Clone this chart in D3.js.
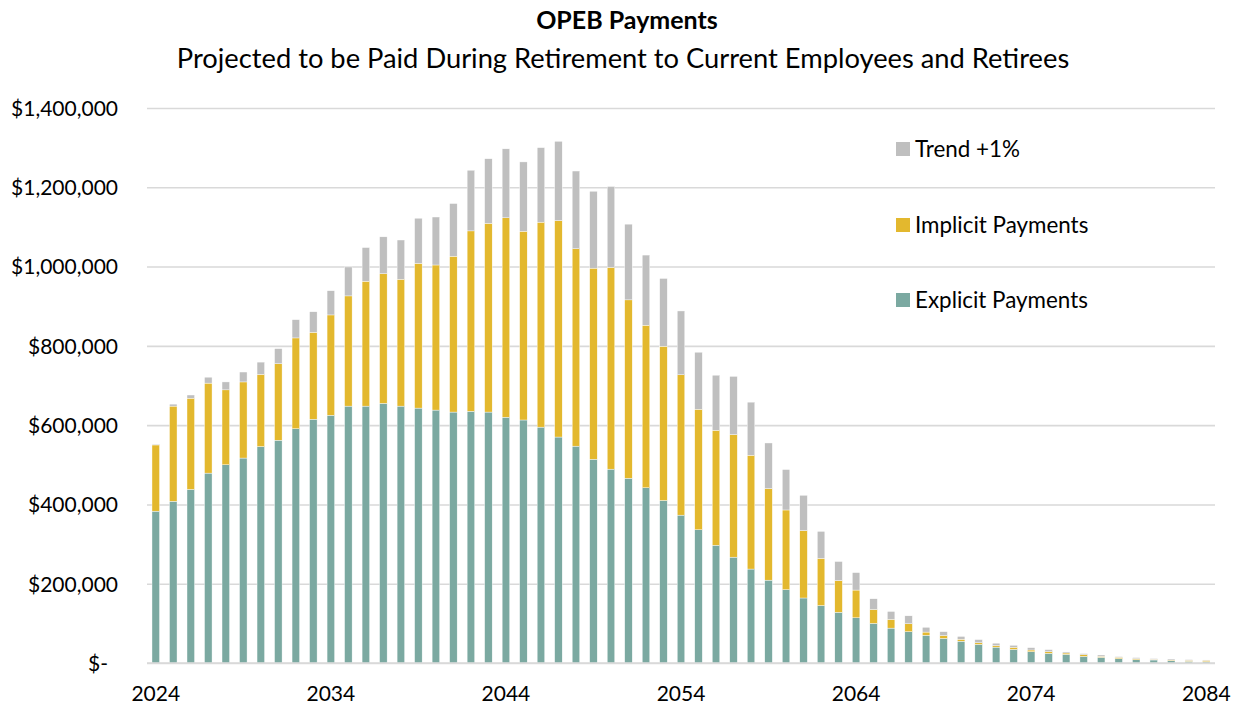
<!DOCTYPE html>
<html>
<head>
<meta charset="utf-8">
<script src="https://cdn.jsdelivr.net/npm/d3@7"></script>
<style>
  html, body { margin: 0; padding: 0; background: #ffffff; }
  svg { display: block; }
  text { font-family: Lato, "Open Sans", sans-serif; fill: #000; }
</style>
</head>
<body>
<svg id="chart" width="1239" height="704"></svg>
<script>
// ---- Data (values in thousands of dollars) ----
const years = [2024,2025,2026,2027,2028,2029,2030,2031,2032,2033,
               2034,2035,2036,2037,2038,2039,2040,2041,2042,2043,
               2044,2045,2046,2047,2048,2049,2050,2051,2052,2053,
               2054,2055,2056,2057,2058,2059,2060,2061,2062,2063,
               2064,2065,2066,2067,2068,2069,2070,2071,2072,2073,
               2074,2075,2076,2077,2078,2079,2080,2081,2082,2083,2084];

const explicitPayments = [383,408,438,479,500,517,546,562,591,615,
                          625,648,648,655,648,643,638,633,635,633,
                          620,613,595,570,547,514,489,466,442,410,
                          373,336,297,267,237,209,185,164,145,128,
                          114,100,88,79,70,62,55,47,40,34.5,
                          28.6,24.4,21.9,16.8,14.3,11,8.4,7.6,6,4.2,3.4];

const implicitPayments = [167,240,230,227,189,192,182,193,229,219,
                          253,278,315,327,320,365,366,393,455,476,
                          503,476,517,546,498,482,509,450,410,389,
                          354,304,290,309,287,231,201,170,119,80,
                          70,35,22,20,8,7,5,4,4,5,
                          4.2,4.2,3.3,4.2,2.5,3.3,2.6,1.7,1.5,2.5,3.3];

const trendPlus1 = [2,5,8,15,20,25,31,38,46,52,
                    61,73,85,93,99,114,121,133,153,163,
                    174,175,188,200,196,194,204,191,177,171,
                    161,144,139,147,134,115,102,89,68,48,
                    44,27,20,20,12,10,7,8,6,5.1,
                    5.9,5.1,2.6,2.6,3.4,1.7,2.5,1.7,2.6,1.7,0.9];

const seriesKeys   = ["explicit", "implicit", "trend"];
const seriesLabels = ["Explicit Payments", "Implicit Payments", "Trend +1%"];
const seriesColors = ["#7BA9A1", "#E3B82E", "#BFBFBF"];

const yTickValues = [0,200000,400000,600000,800000,1000000,1200000,1400000];
const yTickLabels = ["$-","$200,000","$400,000","$600,000","$800,000","$1,000,000","$1,200,000","$1,400,000"];
const xTickYears  = [2024,2034,2044,2054,2064,2074,2084];

const titleText    = "OPEB Payments";
const subtitleText = "Projected to be Paid During Retirement to Current Employees and Retirees";

// ---- Build table ----
const UNIT = 1000;
const rows = years.map((yr, i) => ({
  year: yr,
  explicit: explicitPayments[i] * UNIT,
  implicit: implicitPayments[i] * UNIT,
  trend: trendPlus1[i] * UNIT
}));

// ---- Layout ----
const svg = d3.select("#chart");
const W = 1239, H = 704;
const plot = { left: 147, right: 1215, top: 108, bottom: 663 };

svg.append("rect").attr("width", W).attr("height", H).attr("fill", "#fff");

const x = d3.scaleBand()
  .domain(years)
  .range([plot.left, plot.right])
  .paddingInner(0.57)
  .paddingOuter(0.285);

const y = d3.scaleLinear()
  .domain([0, 1400000])
  .range([plot.bottom, plot.top]);

// Y axis with gridlines
const yAxis = svg.append("g")
  .attr("transform", `translate(${plot.left},0)`)
  .call(d3.axisLeft(y)
    .tickValues(yTickValues)
    .tickSize(-(plot.right - plot.left))
    .tickPadding(29)
    .tickFormat((d, i) => yTickLabels[i]));
yAxis.select(".domain").remove();
yAxis.selectAll(".tick line").attr("stroke", "#D9D9D9").attr("stroke-width", 1.6);
yAxis.selectAll(".tick text")
  .style("font-size", "21px")
  .attr("dy", "0.35em")
  .attr("dx", d => d === 0 ? -10 : 0);

// Bars
const stacked = d3.stack().keys(seriesKeys)(rows);
svg.append("g")
  .selectAll("g")
  .data(stacked)
  .join("g")
    .attr("fill", (d, i) => seriesColors[i])
  .selectAll("rect")
  .data(d => d)
  .join("rect")
    .attr("x", d => x(d.data.year))
    .attr("width", x.bandwidth())
    .attr("y", d => y(d[1]))
    .attr("height", d => Math.max(0, y(d[0]) - y(d[1])))
    .attr("stroke", "#ffffff")
    .attr("stroke-width", 0.4);

// Baseline over bars
svg.append("line")
  .attr("x1", plot.left).attr("x2", plot.right)
  .attr("y1", y(0)).attr("y2", y(0))
  .attr("stroke", "#D9D9D9").attr("stroke-width", 1.6);

// X axis labels
const xAxis = svg.append("g")
  .attr("transform", `translate(0,${plot.bottom})`)
  .call(d3.axisBottom(x).tickValues(xTickYears).tickSize(0).tickPadding(0));
xAxis.select(".domain").remove();
xAxis.selectAll(".tick text")
  .style("font-size", "21px")
  .attr("y", 31)
  .attr("dy", "0.35em");

// Titles
svg.append("text")
  .attr("x", 627).attr("y", 20).attr("dy", "0.35em")
  .attr("text-anchor", "middle")
  .style("font-size", "25px").style("font-weight", "bold")
  .text(titleText);
svg.append("text")
  .attr("x", 623).attr("y", 58).attr("dy", "0.35em")
  .attr("text-anchor", "middle")
  .style("font-size", "27.3px")
  .text(subtitleText);

// Legend (top to bottom: Trend, Implicit, Explicit)
const legendOrder = [2, 1, 0];
const legendY = [149, 225, 300];
const legend = svg.append("g");
legendOrder.forEach((si, k) => {
  legend.append("rect")
    .attr("x", 896).attr("y", legendY[k] - 7)
    .attr("width", 14).attr("height", 14)
    .attr("fill", seriesColors[si]);
  legend.append("text")
    .attr("x", 915).attr("y", legendY[k]).attr("dy", "0.35em")
    .style("font-size", "22.4px")
    .text(seriesLabels[si]);
});
</script>
</body>
</html>
